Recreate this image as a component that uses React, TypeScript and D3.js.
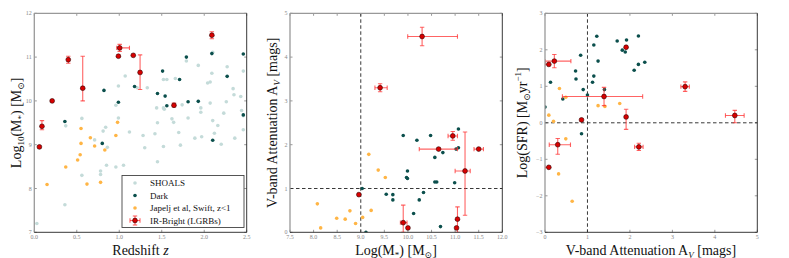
import React from 'react';
import * as d3 from 'd3';

type Pt = [number, number];
type Red = { x: number; y: number; xe?: [number, number]; ye?: [number, number] };

// ---------- Panel 1: Redshift vs Log10(M*) ----------
const shoals1: Pt[] = [
  [0.03, 7.2], [0.36, 7.63], [0.37, 9.43], [0.56, 9.6], [0.56, 8.3], [0.71, 9.11], [0.81, 9.31],
  [0.84, 9.4], [0.86, 8.94], [0.85, 8.53], [0.78, 8.4], [0.78, 8.32], [0.96, 8.49], [0.96, 9.9],
  [0.99, 9.61], [0.99, 10.34], [1.05, 8.53], [1.07, 10.57], [1.12, 9.29], [1.21, 10.3], [1.28, 9.21],
  [1.3, 8.93], [1.33, 10.3], [1.42, 9.25], [1.44, 9.84], [1.45, 9.5], [1.45, 8.61], [1.52, 10.49],
  [1.52, 9.84], [1.53, 9.81], [1.52, 8.96], [1.56, 10.49], [1.62, 9.59], [1.64, 9.51], [1.66, 10.51],
  [1.7, 9.28], [1.72, 8.99], [1.74, 9.91], [1.79, 10.91], [1.81, 9.61], [1.93, 10.81], [1.96, 9.74],
  [1.96, 9.84], [1.89, 9.15], [1.97, 9.18], [2.04, 10.41], [2.07, 10.43], [2.07, 9.95], [2.09, 10.63],
  [2.1, 9.55], [2.1, 11.11], [2.16, 9.44], [2.12, 9.26], [2.2, 9.01], [2.23, 9.72], [2.26, 9.98],
  [2.27, 10.78], [2.34, 10.28], [2.35, 10.14], [2.36, 9.15], [2.43, 10.1], [2.44, 9.78], [2.46, 9.66],
  [2.46, 10.68], [2.46, 9.34],
];
const dark1: Pt[] = [
  [0.36, 9.53], [0.8, 9.03], [0.82, 10.24], [0.99, 9.97], [1.18, 10.33], [1.45, 10.17], [1.51, 10.68],
  [1.54, 10.11], [1.56, 9.89], [1.71, 10.49], [1.79, 11.0], [1.81, 9.98], [1.93, 9.99], [2.09, 11.08],
  [2.1, 9.1], [2.27, 10.56], [2.46, 11.07], [2.46, 9.68],
];
const japelj1: Pt[] = [
  [0.15, 8.09], [0.37, 8.49], [0.55, 9.37], [0.55, 9.03], [0.54, 8.77], [0.51, 8.65], [0.66, 9.16],
  [0.71, 8.97], [0.62, 8.1], [0.78, 8.14], [0.83, 8.88], [0.96, 9.21], [0.98, 9.51],
];
const red1: Red[] = [
  { x: 0.06, y: 8.95 },
  { x: 0.09, y: 9.42, ye: [9.34, 9.55] },
  { x: 0.21, y: 10.0 },
  { x: 0.4, y: 10.94, ye: [10.86, 11.02] },
  { x: 0.57, y: 10.29, ye: [10.0, 11.02] },
  { x: 0.99, y: 11.02 },
  { x: 1.005, y: 11.21, xe: [0.97, 1.12], ye: [11.13, 11.29] },
  { x: 1.165, y: 11.04 },
  { x: 1.245, y: 10.65, ye: [10.26, 11.05] },
  { x: 1.644, y: 9.9, ye: [9.86, 9.95] },
  { x: 2.09, y: 11.5, ye: [11.42, 11.58] },
];
const xTicks1 = ['0.0', '0.5', '1.0', '1.5', '2.0', '2.5'];
const yTicks1 = ['7', '8', '9', '10', '11', '12'];

// ---------- Panel 2: Log(M*) vs A_V ----------
const dark2: Pt[] = [
  [9.9, 2.21], [10.19, 2.1], [10.48, 2.21], [11.07, 2.36], [11.07, 1.93], [11.02, 1.9], [10.57, 1.71],
  [10.74, 1.82], [9.99, 1.4], [9.97, 1.25], [9.99, 1.23], [10.57, 1.15], [10.61, 1.15], [10.99, 1.13],
  [9.03, 1.0], [9.54, 0.87], [9.68, 0.86], [9.68, 0.74], [10.33, 0.91], [10.24, 0.74], [10.12, 0.43],
  [10.69, 0.13], [9.11, 0.0],
];
const japelj2: Pt[] = [
  [9.17, 1.78], [9.37, 1.42], [9.52, 1.25], [8.08, 0.65], [8.77, 0.49], [9.22, 0.5], [8.49, 0.32],
  [8.67, 0.3], [9.04, 0.34], [8.89, 0.2], [8.15, 0.1],
];
const red2: Red[] = [
  { x: 10.3, y: 4.47, xe: [9.995, 11.05], ye: [4.26, 4.68] },
  { x: 9.41, y: 3.3, xe: [9.3, 9.56], ye: [3.21, 3.39] },
  { x: 10.95, y: 2.2, xe: [10.85, 11.05], ye: [2.1, 2.3] },
  { x: 10.65, y: 1.9, xe: [10.24, 11.05] },
  { x: 11.5, y: 1.9, xe: [11.4, 11.6] },
  { x: 11.21, y: 1.4, xe: [11.0, 11.32], ye: [0.39, 2.29] },
  { x: 8.96, y: 0.86 },
  { x: 9.9, y: 0.22, xe: [9.84, 9.98], ye: [0.0, 0.62] },
  { x: 10.0, y: 0.1 },
  { x: 11.05, y: 0.3, ye: [0.0, 0.58] },
  { x: 11.03, y: 0.1 },
];
const xTicks2 = ['7.5', '8.0', '8.5', '9.0', '9.5', '10.0', '10.5', '11.0', '11.5', '12.0'];
const yTicks2 = ['0', '1', '2', '3', '4', '5'];

// ---------- Panel 3: A_V vs Log(SFR) ----------
const dark3: Pt[] = [
  [1.22, 2.37], [1.15, 2.13], [0.84, 1.85], [1.7, 2.24], [1.92, 2.27], [2.2, 2.38], [1.82, 1.99],
  [1.89, 1.94], [1.25, 1.69], [2.2, 1.6], [2.35, 1.66], [2.1, 1.44], [0.72, 1.42], [0.73, 1.2],
  [1.15, 1.28], [1.12, 1.11], [0.13, 1.11], [0.9, 0.91], [1.4, 0.91], [1.0, 0.76], [0.42, 0.65],
  [0.0, 0.43], [0.86, -0.3],
];
const japelj3: Pt[] = [
  [0.34, 0.94], [0.49, 0.7], [1.25, 0.47], [1.41, 0.45], [1.76, 0.53], [0.09, 0.21], [0.2, 0.04],
  [0.49, -0.44], [0.32, -1.4], [0.64, -2.15],
];
const red3: Red[] = [
  { x: 0.09, y: 1.6, xe: [0.0, 0.1] },
  { x: 0.22, y: 1.69, xe: [0.0, 0.61], ye: [1.51, 1.87] },
  { x: 1.91, y: 2.07 },
  { x: 1.39, y: 0.72, xe: [0.41, 2.3], ye: [0.47, 0.97] },
  { x: 3.3, y: 0.99, xe: [3.2, 3.4], ye: [0.86, 1.12] },
  { x: 0.86, y: 0.08 },
  { x: 1.91, y: 0.16, ye: [-0.18, 0.37] },
  { x: 4.47, y: 0.2, xe: [4.25, 4.69], ye: [0.0, 0.34] },
  { x: 0.3, y: -0.6, xe: [0.1, 0.6], ye: [-0.86, -0.43] },
  { x: 2.21, y: -0.66, xe: [2.11, 2.31], ye: [-0.76, -0.56] },
  { x: 0.09, y: -1.22, xe: [0.0, 0.09] },
];
const xTicks3 = ['0', '1', '2', '3', '4', '5'];
const yTicks3 = ['\u22123', '\u22122', '\u22121', '0', '1', '2', '3'];

const legendLabels = ['SHOALS', 'Dark', 'Japelj et al, Swift, z<1', 'IR-Bright (LGRBs)'];

const C_SHOALS = '#c4dbd9';
const C_DARK = '#0b4f4c';
const C_JAP = '#ffb545';
const C_RED = '#d80000';
const C_ERR = '#ff3030';
const FONT = '"Liberation Serif", "DejaVu Serif", serif';

const TOP = 13.3;
const BOTTOM = 232.3;

interface PanelProps {
  x0: number; x1: number;
  xDom: [number, number]; yDom: [number, number];
  xTicks: string[]; yTicks: string[];
  shoals?: Pt[]; dark: Pt[]; jap: Pt[]; red: Red[];
  vline?: number; hline?: number;
}

function Panel(p: PanelProps) {
  const xs = d3.scaleLinear().domain(p.xDom).range([p.x0, p.x1]);
  const ys = d3.scaleLinear().domain(p.yDom).range([BOTTOM, TOP]);
  const xtv = p.xTicks.map((t) => parseFloat(t.replace('\u2212', '-')));
  const ytv = p.yTicks.map((t) => parseFloat(t.replace('\u2212', '-')));
  const tl = 2.5;
  const cap = 2.2;
  return (
    <g>
      <defs>
        <clipPath id={`clip${Math.round(p.x0)}`}>
          <rect x={p.x0} y={TOP} width={p.x1 - p.x0} height={BOTTOM - TOP} />
        </clipPath>
      </defs>
      {xtv.map((v, i) => (
        <g key={'xt' + i}>
          <line x1={xs(v)} x2={xs(v)} y1={BOTTOM} y2={BOTTOM - tl} stroke="#555" strokeWidth={0.6} />
          <line x1={xs(v)} x2={xs(v)} y1={TOP} y2={TOP + tl} stroke="#555" strokeWidth={0.6} />
          <text x={xs(v)} y={BOTTOM + 6.8} fontSize={6} fill="#888" textAnchor="middle" fontFamily={FONT}>{p.xTicks[i]}</text>
        </g>
      ))}
      {ytv.map((v, i) => (
        <g key={'yt' + i}>
          <line x1={p.x0} x2={p.x0 + tl} y1={ys(v)} y2={ys(v)} stroke="#555" strokeWidth={0.6} />
          <line x1={p.x1} x2={p.x1 - tl} y1={ys(v)} y2={ys(v)} stroke="#555" strokeWidth={0.6} />
          <text x={p.x0 - 2.5} y={ys(v) + 2} fontSize={6} fill="#888" textAnchor="end" fontFamily={FONT}>{p.yTicks[i]}</text>
        </g>
      ))}
      <g clipPath={`url(#clip${Math.round(p.x0)})`}>
        {p.vline !== undefined && (
          <line x1={xs(p.vline)} x2={xs(p.vline)} y1={TOP} y2={BOTTOM} stroke="#222" strokeWidth={0.9} strokeDasharray="3.5,2.5" />
        )}
        {p.hline !== undefined && (
          <line x1={p.x0} x2={p.x1} y1={ys(p.hline)} y2={ys(p.hline)} stroke="#222" strokeWidth={0.9} strokeDasharray="3.5,2.5" />
        )}
        {(p.shoals || []).map((d, i) => (
          <circle key={'s' + i} cx={xs(d[0])} cy={ys(d[1])} r={1.8} fill={C_SHOALS} />
        ))}
        {p.dark.map((d, i) => (
          <circle key={'d' + i} cx={xs(d[0])} cy={ys(d[1])} r={1.8} fill={C_DARK} />
        ))}
        {p.jap.map((d, i) => (
          <circle key={'j' + i} cx={xs(d[0])} cy={ys(d[1])} r={1.8} fill={C_JAP} />
        ))}
        {p.red.map((d, i) => (
          <g key={'re' + i} stroke={C_ERR} strokeOpacity={0.75} strokeWidth={1.1}>
            {d.xe && (
              <g>
                <line x1={xs(d.xe[0])} x2={xs(d.xe[1])} y1={ys(d.y)} y2={ys(d.y)} />
                <line x1={xs(d.xe[0])} x2={xs(d.xe[0])} y1={ys(d.y) - cap} y2={ys(d.y) + cap} />
                <line x1={xs(d.xe[1])} x2={xs(d.xe[1])} y1={ys(d.y) - cap} y2={ys(d.y) + cap} />
              </g>
            )}
            {d.ye && (
              <g>
                <line x1={xs(d.x)} x2={xs(d.x)} y1={ys(d.ye[0])} y2={ys(d.ye[1])} />
                <line x1={xs(d.x) - cap} x2={xs(d.x) + cap} y1={ys(d.ye[0])} y2={ys(d.ye[0])} />
                <line x1={xs(d.x) - cap} x2={xs(d.x) + cap} y1={ys(d.ye[1])} y2={ys(d.ye[1])} />
              </g>
            )}
          </g>
        ))}
        {p.red.map((d, i) => (
          <circle key={'r' + i} cx={xs(d.x)} cy={ys(d.y)} r={2.4} fill={C_RED} stroke="#300" strokeWidth={0.6} />
        ))}
      </g>
      <line x1={p.x0} x2={p.x1} y1={TOP} y2={TOP} stroke="#999" strokeWidth={1.3} />
      <line x1={p.x0} x2={p.x0} y1={TOP} y2={BOTTOM} stroke="#999" strokeWidth={1.3} />
      <line x1={p.x1} x2={p.x1} y1={TOP} y2={BOTTOM} stroke="#222" strokeWidth={0.9} />
      <line x1={p.x0} x2={p.x1} y1={BOTTOM} y2={BOTTOM} stroke="#222" strokeWidth={0.9} />
    </g>
  );
}

function Legend() {
  const lx = 122, ly = 175.5, lw = 122, lh = 52;
  const rows = [183, 195.5, 208, 220.5];
  const colors = [C_SHOALS, C_DARK, C_JAP];
  return (
    <g>
      <rect x={lx} y={ly} width={lw} height={lh} fill="white" stroke="#444" strokeWidth={0.9} />
      {rows.map((ry, i) => (
        <g key={i}>
          {i < 3 ? (
            <circle cx={135} cy={ry} r={1.8} fill={colors[i]} />
          ) : (
            <g>
              <g stroke={C_ERR} strokeOpacity={0.75} strokeWidth={1.1}>
                <line x1={130} x2={140} y1={ry} y2={ry} />
                <line x1={130} x2={130} y1={ry - 2.2} y2={ry + 2.2} />
                <line x1={140} x2={140} y1={ry - 2.2} y2={ry + 2.2} />
                <line x1={135} x2={135} y1={ry - 4.5} y2={ry + 4.5} />
                <line x1={132.8} x2={137.2} y1={ry - 4.5} y2={ry - 4.5} />
                <line x1={132.8} x2={137.2} y1={ry + 4.5} y2={ry + 4.5} />
              </g>
              <circle cx={135} cy={ry} r={2.4} fill={C_RED} stroke="#300" strokeWidth={0.6} />
            </g>
          )}
          <text x={150} y={ry + 3} fontSize={9} fontFamily={FONT} fill="#111">{legendLabels[i]}</text>
        </g>
      ))}
    </g>
  );
}

export default function App() {
  const fs = 14;
  return (
    <svg width={789} height={258} style={{ position: 'absolute', left: 0, top: 0, background: 'white' }}>
      <rect width={789} height={258} fill="white" />
      <Panel x0={34.3} x1={246.7} xDom={[0, 2.5]} yDom={[7, 12]} xTicks={xTicks1} yTicks={yTicks1}
        shoals={shoals1} dark={dark1} jap={japelj1} red={red1} />
      <Legend />
      <Panel x0={290} x1={502.3} xDom={[7.5, 12]} yDom={[0, 5]} xTicks={xTicks2} yTicks={yTicks2}
        dark={dark2} jap={japelj2} red={red2} vline={9} hline={1} />
      <Panel x0={545} x1={757.3} xDom={[0, 5]} yDom={[-3, 3]} xTicks={xTicks3} yTicks={yTicks3}
        dark={dark3} jap={japelj3} red={red3} vline={1} hline={0} />

      <g fontFamily={FONT} fontSize={fs} fill="#111">
        <text x={140.5} y={254.5} textAnchor="middle">Redshift <tspan fontStyle="italic">z</tspan></text>
        <text transform="translate(21,122.8) rotate(-90)" textAnchor="middle">
          Log<tspan fontSize={9} dy={3}>10</tspan><tspan dy={-3}>(M</tspan><tspan fontSize={9} dy={3}>*</tspan><tspan dy={-3}>) [M</tspan><tspan fontSize={9} dy={3}>⊙</tspan><tspan dy={-3}>]</tspan>
        </text>
        <text x={396} y={254.5} textAnchor="middle">
          Log(M<tspan fontSize={9} dy={3}>*</tspan><tspan dy={-3}>) [M</tspan><tspan fontSize={9} dy={3}>⊙</tspan><tspan dy={-3}>]</tspan>
        </text>
        <text transform="translate(277,122.8) rotate(-90)" textAnchor="middle">
          V-band Attenuation A<tspan fontSize={9} dy={3} fontStyle="italic">V</tspan><tspan dy={-3}> [mags]</tspan>
        </text>
        <text transform="translate(527,122.8) rotate(-90)" textAnchor="middle">
          Log(SFR) [M<tspan fontSize={9} dy={3}>⊙</tspan><tspan dy={-3}>yr</tspan><tspan fontSize={9} dy={-6}>−1</tspan><tspan dy={6}>]</tspan>
        </text>
        <text x={651} y={254.5} textAnchor="middle">
          V-band Attenuation A<tspan fontSize={9} dy={3} fontStyle="italic">V</tspan><tspan dy={-3}> [mags]</tspan>
        </text>
      </g>
    </svg>
  );
}
